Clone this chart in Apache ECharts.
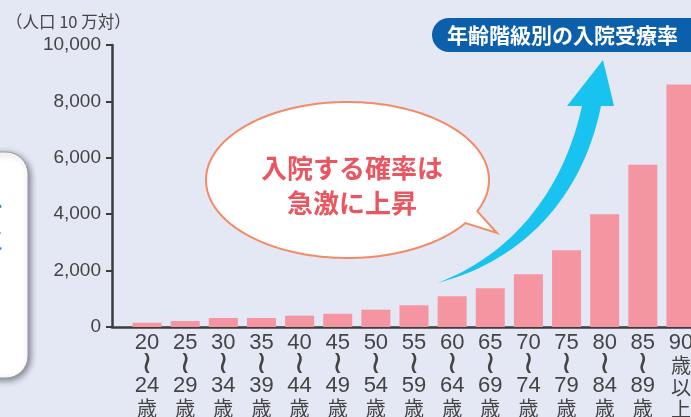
<!DOCTYPE html>
<html><head><meta charset="utf-8">
<script src="https://cdn.jsdelivr.net/npm/echarts@6/dist/echarts.min.js"></script>
<style>html,body{margin:0;padding:0;background:#e4e7f4;}#c{width:691px;height:417px;}</style>
</head><body><div id="c"></div>
<script>
const categories = ['20\n≀\n24\n歳','25\n≀\n29\n歳','30\n≀\n34\n歳','35\n≀\n39\n歳','40\n≀\n44\n歳','45\n≀\n49\n歳','50\n≀\n54\n歳','55\n≀\n59\n歳','60\n≀\n64\n歳','65\n≀\n69\n歳','70\n≀\n74\n歳','75\n≀\n79\n歳','80\n≀\n84\n歳','85\n≀\n89\n歳','90\n歳\n以\n上'];
const rates = [150, 210, 320, 320, 400, 470, 615, 770, 1090, 1375, 1870, 2725, 4000, 5750, 8600];
const yTicks = [0, 2000, 4000, 6000, 8000, 10000];
const unitLabel = '（人口 10 万対）';
const titleText = '年齢階級別の入院受療率';
const bubbleText = '入院する確率は\n急激に上昇';

function cubic(p0, p1, p2, p3, n) {
  const pts = [];
  for (let i = 0; i <= n; i++) {
    const t = i / n, u = 1 - t;
    pts.push([
      u*u*u*p0[0] + 3*u*u*t*p1[0] + 3*u*t*t*p2[0] + t*t*t*p3[0],
      u*u*u*p0[1] + 3*u*u*t*p1[1] + 3*u*t*t*p2[1] + t*t*t*p3[1]
    ]);
  }
  return pts;
}
const arrowPts = [].concat(
  cubic([437,283],[520,262],[582,200],[601,106], 30),
  [[614,106],[603,60],[567,106]],
  cubic([582,106],[562,198],[505,258],[437,283], 30)
);
const bubblePts = (function(){
  const cx = 347.5, cy = 180, rx = 141.5, ry = 78, pts = [];
  const a0 = 33.5, a1 = 25 + 360;
  for (let a = a0; a <= a1; a += 2) {
    const r = a * Math.PI / 180;
    pts.push([cx + rx * Math.cos(r), cy + ry * Math.sin(r)]);
  }
  pts.push([497, 233]);
  return pts;
})();

const numFont = '"Liberation Sans",Arial,sans-serif';
function catLabel(v) {
  const p = v.split('\n');
  return p.map((s, i) => (s === '≀' ? '{w|' + s + '}' : (/[0-9]/.test(s) ? '{n|' + s + '}' : '{k|' + s + '}'))).join('\n');
}
const chart = echarts.init(document.getElementById('c'));
chart.setOption({
  backgroundColor: '#e4e7f4',
  animation: false,
  grid: [
    {left: 128, right: -9, top: 45, bottom: 90, containLabel: false, outerBoundsMode: 'none'},
    {left: 112, right: 0, top: 45, bottom: 90, containLabel: false, outerBoundsMode: 'none'}
  ],
  xAxis: [
    {type: 'category', data: categories, gridIndex: 0,
     axisLine: {show: false}, axisTick: {show: false},
     axisLabel: {interval: 0, margin: 5, color: '#444', fontFamily: numFont, fontSize: 22, lineHeight: 22,
       formatter: catLabel,
       rich: {
         n: {fontFamily: numFont, fontSize: 22, lineHeight: 22, color: '#444'},
         w: {fontFamily: '"DejaVu Sans"', fontSize: 32, lineHeight: 21, color: '#444'},
         k: {fontFamily: '"Noto Sans CJK JP"', fontSize: 20, lineHeight: 22, color: '#444'}
       }}},
    {type: 'value', gridIndex: 1, min: 0, max: 1,
     axisLine: {show: true, onZero: false, lineStyle: {color: '#3c3c3c', width: 2.5}},
     axisTick: {show: false}, axisLabel: {show: false}, splitLine: {show: false}}
  ],
  yAxis: [
    {type: 'value', gridIndex: 0, min: yTicks[0], max: yTicks[yTicks.length-1], interval: 2000, offset: 16,
     axisLine: {show: true, lineStyle: {color: '#3c3c3c', width: 2.5}},
     axisTick: {show: true, length: 6, lineStyle: {color: '#3c3c3c', width: 2}},
     splitLine: {show: false},
     axisLabel: {margin: 11, color: '#444', fontFamily: numFont, fontSize: 19,
       formatter: v => v.toLocaleString('en-US')}},
    {type: 'value', gridIndex: 1, show: false, min: 0, max: 1}
  ],
  series: [{
    type: 'bar', data: rates, barWidth: 29, xAxisIndex: 0, yAxisIndex: 0,
    itemStyle: {color: '#f595a1'}
  }],
  graphic: [
    {type: 'rect', shape: {x: -40, y: 152, width: 68, height: 226, r: 22},
     style: {fill: '#ffffff', stroke: '#9a9aa6', lineWidth: 1, shadowBlur: 6, shadowColor: 'rgba(0,0,0,0.45)', shadowOffsetX: 2, shadowOffsetY: 2}},
    {type: 'text', x: -22, y: 198, style: {text: 'ぞ\nに', fill: '#2f80d0', font: '26px "Noto Sans CJK JP"', lineHeight: 28}},
    {type: 'text', x: 6, y: 13, style: {text: unitLabel, fill: '#444', font: '16.5px "Noto Sans CJK JP"'}},
    {type: 'rect', shape: {x: 432, y: 18, width: 290, height: 34, r: 17},
     style: {fill: '#0b5fab'}},
    {type: 'text', x: 447, y: 35, style: {text: titleText, fill: '#ffffff', font: 'bold 21px "Noto Sans CJK JP"', textVerticalAlign: 'middle'}},
    {type: 'polygon', shape: {points: arrowPts}, style: {fill: '#18c3f0'}},
    {type: 'polygon', shape: {points: bubblePts},
     style: {fill: '#ffffff', stroke: '#f28b66', lineWidth: 2}},
    {type: 'text', x: 352, y: 186, style: {text: bubbleText, fill: '#ea5660', font: 'bold 26px "Noto Sans CJK JP"', lineHeight: 35, textAlign: 'center', textVerticalAlign: 'middle'}}
  ]
});
</script></body></html>
